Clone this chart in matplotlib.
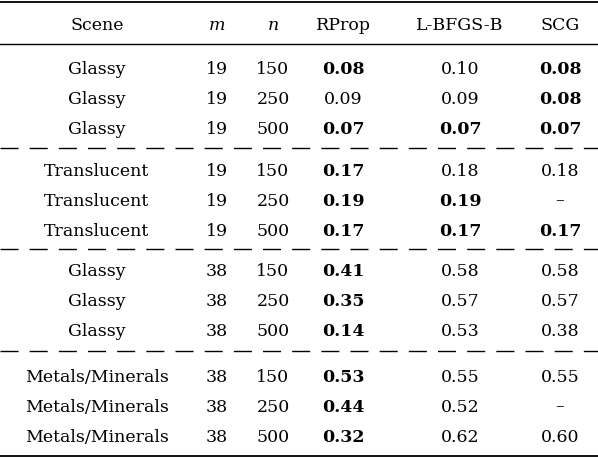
import matplotlib
matplotlib.use("Agg")
import matplotlib.pyplot as plt

headers = ["Scene", "m", "n", "RProp", "L-BFGS-B", "SCG"]
scenes = ["Glassy"]*3 + ["Translucent"]*3 + ["Glassy"]*3 + ["Metals/Minerals"]*3
m_vals = ["19"]*6 + ["38"]*6
n_vals = ["150", "250", "500"]*4
rprop = ["0.08","0.09","0.07","0.17","0.19","0.17","0.41","0.35","0.14","0.53","0.44","0.32"]
lbfgs = ["0.10","0.09","0.07","0.18","0.19","0.17","0.58","0.57","0.53","0.55","0.52","0.62"]
scg = ["0.08","0.08","0.07","0.18","\u2013","0.17","0.58","0.57","0.38","0.55","\u2013","0.60"]
bold_rprop = [1,0,1,1,1,1,1,1,1,1,1,1]
bold_lbfgs = [0,0,1,0,1,1,0,0,0,0,0,0]
bold_scg = [1,1,1,0,0,1,0,0,0,0,0,0]

W, H = 598, 458
fig = plt.figure(figsize=(W/100, H/100), dpi=100)
ax = fig.add_axes([0, 0, 1, 1])
ax.set_xlim(0, W); ax.set_ylim(H, 0); ax.axis("off")
fam = "DejaVu Serif"
fs = 12.5
xs = [97, 217, 273, 343, 460, 560]
for x, h in zip(xs, headers):
    style = "italic" if h in ("m", "n") else "normal"
    ax.text(x, 23, h, ha="center", va="center_baseline", fontsize=fs, family=fam, style=style)
ax.plot([0, W], [2, 2], color="black", lw=1.3)
ax.plot([0, W], [44, 44], color="black", lw=1.0)
ax.plot([0, W], [456, 456], color="black", lw=1.3)
ys = [68, 98, 128, 169, 199, 229, 270, 300, 330, 375, 405, 435]
for i, y in enumerate(ys):
    vals = [scenes[i], m_vals[i], n_vals[i], rprop[i], lbfgs[i], scg[i]]
    bolds = [0, 0, 0, bold_rprop[i], bold_lbfgs[i], bold_scg[i]]
    for x, v, b in zip(xs, vals, bolds):
        ax.text(x, y, v, ha="center", va="center_baseline", fontsize=fs, family=fam,
                weight="bold" if b else "normal")
for y in [148, 249, 351]:
    ax.plot([0, W], [y, y], color="black", lw=1.0, dashes=(13, 8))
fig.savefig("out.png", dpi=100)
